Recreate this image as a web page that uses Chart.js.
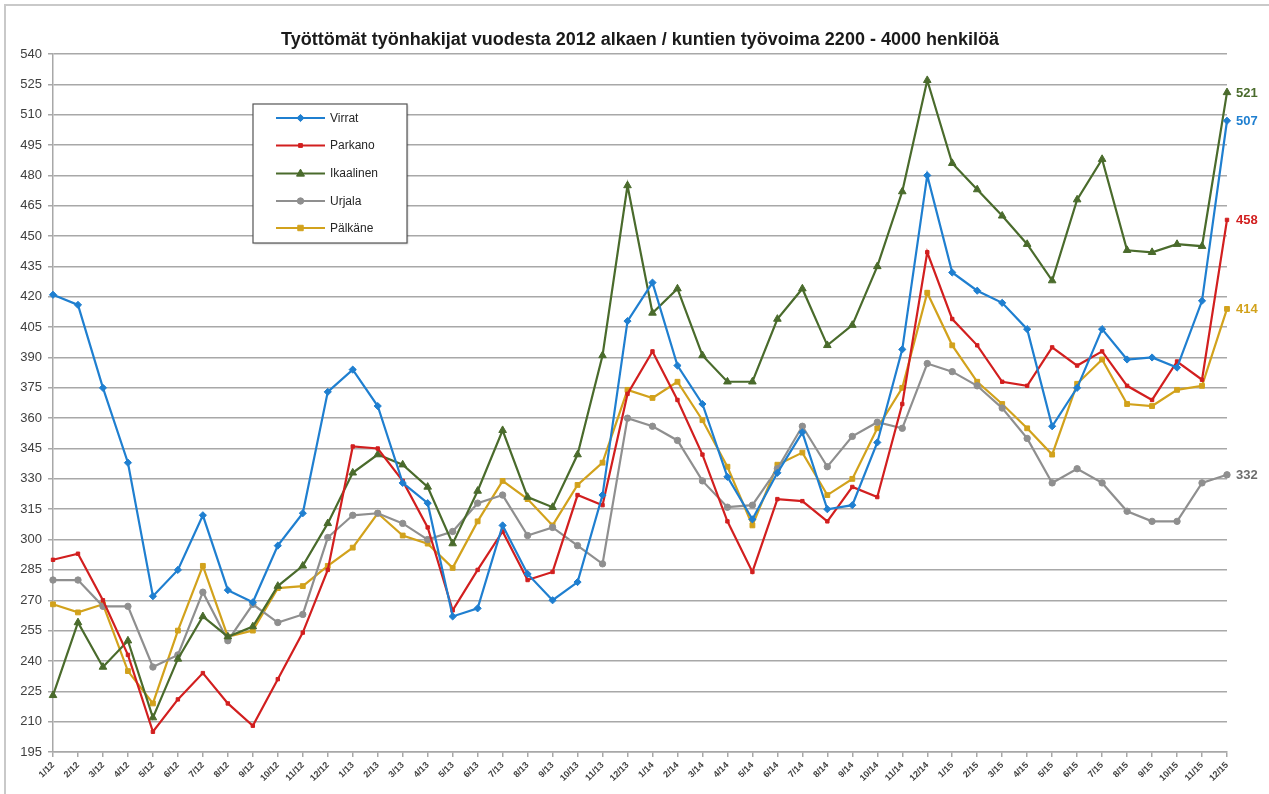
<!DOCTYPE html>
<html>
<head>
<meta charset="utf-8">
<script src="https://cdn.jsdelivr.net/npm/chart.js@4.4.1/dist/chart.umd.min.js"></script>
<style>
  html, body { margin: 0; padding: 0; background: #ffffff; }
  #wrap { width: 1269px; height: 794px; position: relative; }
</style>
</head>
<body>
<div id="wrap"><canvas id="c" width="1269" height="794"></canvas></div>
<script>
const titleText = 'Työttömät työnhakijat vuodesta 2012 alkaen / kuntien työvoima 2200 - 4000 henkilöä';

const categories = [
  '1/12','2/12','3/12','4/12','5/12','6/12','7/12','8/12','9/12','10/12','11/12','12/12',
  '1/13','2/13','3/13','4/13','5/13','6/13','7/13','8/13','9/13','10/13','11/13','12/13',
  '1/14','2/14','3/14','4/14','5/14','6/14','7/14','8/14','9/14','10/14','11/14','12/14',
  '1/15','2/15','3/15','4/15','5/15','6/15','7/15','8/15','9/15','10/15','11/15','12/15'
];

const virrat = [
  421, 416, 375, 338, 272, 285, 312, 275, 269, 297, 313, 373,
  384, 366, 328, 318, 262, 266, 307, 283, 270, 279, 322, 408,
  427, 386, 367, 331, 310, 333, 353, 315, 317, 348, 394, 480,
  432, 423, 417, 404, 356, 375, 404, 389, 390, 385, 418, 507
];
const parkano = [
  290, 293, 270, 243, 205, 221, 234, 219, 208, 231, 254, 285,
  346, 345, 329, 306, 265, 285, 304, 280, 284, 322, 317, 372,
  393, 369, 342, 309, 284, 320, 319, 309, 326, 321, 367, 442,
  409, 396, 378, 376, 395, 386, 393, 376, 369, 388, 379, 458
];
const ikaalinen = [
  223, 259, 237, 250, 212, 241, 262, 252, 257, 277, 287, 308,
  333, 342, 337, 326, 298, 324, 354, 321, 316, 342, 391, 475,
  412, 424, 391, 378, 378, 409, 424, 396, 406, 435, 472, 527,
  486, 473, 460, 446, 428, 468, 488, 443, 442, 446, 445, 521
];
const urjala = [
  280, 280, 267, 267, 237, 243, 274, 250, 268, 259, 263, 301,
  312, 313, 308, 300, 304, 318, 322, 302, 306, 297, 288, 360,
  356, 349, 329, 316, 317, 335, 356, 336, 351, 358, 355, 387,
  383, 376, 365, 350, 328, 335, 328, 314, 309, 309, 328, 332
];
const palkane = [
  268, 264, 268, 235, 219, 255, 287, 252, 255, 276, 277, 287,
  296, 313, 302, 298, 286, 309, 329, 320, 307, 327, 338, 374,
  370, 378, 359, 336, 307, 337, 343, 322, 330, 355, 375, 422,
  396, 378, 367, 355, 342, 377, 389, 367, 366, 374, 376, 414
];

const yMin = 195, yMax = 540, yStep = 15;

function ds(label, data, color, pointStyle, radius) {
  return {
    label, data,
    borderColor: color, backgroundColor: color,
    pointBackgroundColor: color, pointBorderColor: color,
    borderWidth: 2.2, pointStyle, pointRadius: radius, pointBorderWidth: 1,
    pointHoverRadius: radius, tension: 0
  };
}

const datasets = [
  ds('Virrat', virrat, '#1f7fd0', 'rectRot', 3.6),
  ds('Parkano', parkano, '#d21f1f', 'rect', 2.4),
  ds('Ikaalinen', ikaalinen, '#4a6b2c', 'triangle', 4.4),
  ds('Urjala', urjala, '#8f8f8f', 'circle', 3.2),
  ds('Pälkäne', palkane, '#d2a21c', 'rect', 3.4)
];

const framePlugin = {
  id: 'frame',
  beforeDraw(chart) {
    const ctx = chart.ctx;
    ctx.save();
    ctx.strokeStyle = '#c9c9c9';
    ctx.lineWidth = 2;
    ctx.beginPath();
    ctx.moveTo(5, 794);
    ctx.lineTo(5, 5);
    ctx.lineTo(1269, 5);
    ctx.stroke();
    ctx.fillStyle = '#1a1a1a';
    ctx.font = 'bold 18px "Liberation Sans", Arial, sans-serif';
    ctx.textAlign = 'center';
    ctx.textBaseline = 'middle';
    ctx.fillText(titleText, 640, 40);
    ctx.restore();
  }
};

function drawMarker(ctx, style, radius, x, y, color) {
  ctx.save();
  ctx.fillStyle = color; ctx.strokeStyle = color; ctx.lineWidth = 1;
  ctx.beginPath();
  if (style === 'circle') {
    ctx.arc(x, y, radius, 0, Math.PI * 2);
  } else if (style === 'rect') {
    ctx.rect(x - radius * 0.8, y - radius * 0.8, radius * 1.6, radius * 1.6);
  } else if (style === 'rectRot') {
    ctx.moveTo(x, y - radius); ctx.lineTo(x + radius, y);
    ctx.lineTo(x, y + radius); ctx.lineTo(x - radius, y); ctx.closePath();
  } else if (style === 'triangle') {
    ctx.moveTo(x, y - radius); ctx.lineTo(x + radius * 0.9, y + radius * 0.6);
    ctx.lineTo(x - radius * 0.9, y + radius * 0.6); ctx.closePath();
  }
  ctx.fill(); ctx.stroke();
  ctx.restore();
}

const legendPlugin = {
  id: 'boxLegend',
  afterDatasetsDraw(chart) {
    const ctx = chart.ctx;
    const bx = 253, by = 104, bw = 154, bh = 139;
    ctx.save();
    ctx.shadowColor = 'rgba(0,0,0,0.25)';
    ctx.shadowBlur = 2; ctx.shadowOffsetX = 1; ctx.shadowOffsetY = 1;
    ctx.fillStyle = '#ffffff';
    ctx.fillRect(bx, by, bw, bh);
    ctx.shadowColor = 'transparent';
    ctx.strokeStyle = '#555555'; ctx.lineWidth = 1.2;
    ctx.strokeRect(bx, by, bw, bh);
    const rows = [118, 145.5, 173.5, 201, 228];
    chart.data.datasets.forEach((d, i) => {
      const y = rows[i];
      ctx.strokeStyle = d.borderColor; ctx.lineWidth = 2.2;
      ctx.beginPath(); ctx.moveTo(276, y); ctx.lineTo(325, y); ctx.stroke();
      drawMarker(ctx, d.pointStyle, d.pointRadius, 300.5, y, d.borderColor);
      ctx.fillStyle = '#262626';
      ctx.font = '12px "Liberation Sans", Arial, sans-serif';
      ctx.textBaseline = 'middle'; ctx.textAlign = 'left';
      ctx.fillText(d.label, 330, y + 0.5);
    });
    ctx.restore();
  }
};

const endLabelPlugin = {
  id: 'endLabels',
  afterDatasetsDraw(chart) {
    const ctx = chart.ctx;
    ctx.save();
    ctx.font = 'bold 13px "Liberation Sans", Arial, sans-serif';
    ctx.textBaseline = 'middle'; ctx.textAlign = 'left';
    chart.data.datasets.forEach((d, i) => {
      const meta = chart.getDatasetMeta(i);
      const last = meta.data[meta.data.length - 1];
      const val = d.data[d.data.length - 1];
      ctx.fillStyle = d.borderColor === '#8f8f8f' ? '#6e6e6e' : d.borderColor;
      ctx.fillText(String(val), last.x + 9, last.y + 1);
    });
    ctx.restore();
  }
};

new Chart(document.getElementById('c'), {
  type: 'line',
  data: { labels: categories, datasets },
  options: {
    responsive: false,
    animation: false,
    events: [],
    layout: { padding: { left: 5, right: 42, top: 54, bottom: 0 } },
    plugins: {
      legend: { display: false },
      tooltip: { enabled: false },
      title: { display: false }
    },
    scales: {
      x: {
        offset: false,
        grid: { display: true, drawOnChartArea: false, drawTicks: true, tickLength: 5, color: '#a8a8a8', lineWidth: 1.5 },
        border: { display: true, color: '#a8a8a8', width: 1.5 },
        ticks: {
          autoSkip: false, minRotation: 45, maxRotation: 45, padding: 3,
          color: '#404040',
          font: { family: '"Liberation Sans", Arial, sans-serif', size: 9, weight: 'bold' }
        },
        afterFit(s) { s.height = 42; }
      },
      y: {
        min: yMin, max: yMax,
        grid: { color: '#a8a8a8', lineWidth: 1.5, drawTicks: true, tickLength: 5 },
        border: { display: true, color: '#a8a8a8', width: 1.5 },
        ticks: {
          stepSize: yStep, padding: 6, color: '#404040',
          font: { family: '"Liberation Sans", Arial, sans-serif', size: 13 }
        },
        afterFit(s) { s.width = 48; }
      }
    }
  },
  plugins: [framePlugin, legendPlugin, endLabelPlugin]
});
</script>
</body>
</html>
